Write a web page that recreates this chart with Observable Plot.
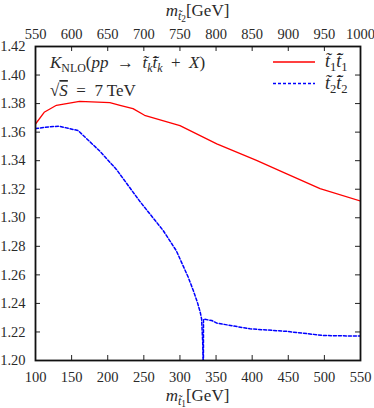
<!DOCTYPE html>
<html>
<head>
<meta charset="utf-8">
<script src="https://cdn.jsdelivr.net/npm/d3@7"></script>
<script src="https://cdn.jsdelivr.net/npm/@observablehq/plot@0.6"></script>
<style>
  html, body { margin: 0; padding: 0; background: #fff; }
  #chart svg { display: block; }
</style>
</head>
<body>
<div id="chart"></div>
<script>
// ---- data ----
const xTicks = [100, 150, 200, 250, 300, 350, 400, 450, 500, 550];
const xTopTickLabels = ["550", "600", "650", "700", "750", "800", "850", "900", "950", "1000"];
const yTicks = [1.20, 1.22, 1.24, 1.26, 1.28, 1.30, 1.32, 1.34, 1.36, 1.38, 1.40, 1.42];
const yTickLabels = ["1.20", "1.22", "1.24", "1.26", "1.28", "1.30", "1.32", "1.34", "1.36", "1.38", "1.40", "1.42"];

// t1 t1bar (red, solid)
const redX = [100, 112, 129, 161, 203, 217, 235, 251, 300, 351, 406, 444, 494, 550];
const redY = [1.3657, 1.3739, 1.3788, 1.3816, 1.3807, 1.3788, 1.3765, 1.3718, 1.3646, 1.3518, 1.3402, 1.3316, 1.3204, 1.3117];

// t2 t2bar (blue, dashed) - branch below threshold
const blueX1 = [100, 120, 133, 159, 189, 212, 244, 277, 295, 311.5, 318.5, 324, 328, 330, 331.5, 332.3];
const blueY1 = [1.3625, 1.3638, 1.3641, 1.3611, 1.3467, 1.3339, 1.3118, 1.2909, 1.2769, 1.2583, 1.2490, 1.2410, 1.2340, 1.2290, 1.2130, 1.1950];
// branch above threshold
const blueX2 = [332.5, 332.6, 344, 351, 397, 448, 499, 550];
const blueY2 = [1.1950, 1.2290, 1.2280, 1.2262, 1.2222, 1.2204, 1.2175, 1.2171];

const red = redX.map((x, i) => ({x, y: redY[i]}));
const blue = [
  ...blueX1.map((x, i) => ({x, y: blueY1[i], b: 1})),
  ...blueX2.map((x, i) => ({x, y: blueY2[i], b: 2}))
];

// ---- layout ----
const W = 374, H = 408;
const mL = 35, mR = 14, mT = 46, mB = 48;
const iW = W - mL - mR, iH = H - mT - mB;
const TK = 5; // inward tick length
const FONT = "'Liberation Serif', 'DejaVu Serif', serif";
const INK = "#2a2a2a";

const chart = Plot.plot({
  width: W, height: H,
  marginLeft: mL, marginRight: mR, marginTop: mT, marginBottom: mB,
  x: {domain: [100, 550]},
  y: {domain: [1.20, 1.42]},
  style: {fontFamily: FONT, fontSize: "14.5px", color: INK, background: "#fff"},
  marks: [
    Plot.axisX(xTicks, {anchor: "bottom", tickSize: 0, tickPadding: 11, label: null, tickFormat: d => String(d)}),
    Plot.axisX(xTicks, {anchor: "top", tickSize: 0, tickPadding: 8, label: null, tickFormat: (d, i) => xTopTickLabels[i]}),
    Plot.axisY(yTicks, {anchor: "left", tickSize: 0, tickPadding: 10, label: null, tickFormat: (d, i) => yTickLabels[i]}),
    Plot.tickX(xTicks, {x: d => d, insetTop: iH - TK, stroke: "#222"}),
    Plot.tickX(xTicks, {x: d => d, insetBottom: iH - TK, stroke: "#222"}),
    Plot.tickY(yTicks, {y: d => d, insetRight: iW - TK, stroke: "#222"}),
    Plot.tickY(yTicks, {y: d => d, insetLeft: iW - TK, stroke: "#222"}),
    Plot.line(red, {x: "x", y: "y", stroke: "#ff0000", strokeWidth: 1.3, clip: true}),
    Plot.line(blue, {x: "x", y: "y", z: "b", stroke: "#0000ff", strokeWidth: 1.5, strokeDasharray: "3,2", clip: true}),
    Plot.frame({stroke: "#111", strokeWidth: 1.8})
  ]
});

document.getElementById("chart").appendChild(chart);

// ---- rich text helper (annotations, legend, axis titles) ----
const svg = d3.select(chart);
function rich(x, y, segs, {size = 14.5, anchor = "start"} = {}) {
  const t = svg.append("text")
    .attr("x", x).attr("y", y)
    .attr("text-anchor", anchor)
    .attr("font-family", FONT)
    .attr("font-size", size)
    .attr("fill", INK);
  let cur = 0;
  for (const s of segs) {
    const level = s.sub || 0;
    const fs = level === 0 ? size : level === 1 ? size * 0.7 : size * 0.55;
    const off = level === 0 ? 0 : level === 1 ? size * 0.22 : size * 0.36;
    const ts = t.append("tspan").text(s.t).attr("font-size", fs);
    if (s.i) ts.attr("font-style", "italic");
    if (s.over) ts.style("text-decoration", "overline");
    const dy = off - cur;
    if (dy !== 0) ts.attr("dy", dy);
    cur = off;
  }
  return t;
}

const SP = "\u2002"; // en space (math spacing around relations/operators)

// annotations
rich(mL + 15, 68, [
  {t: "K", i: 1}, {t: "NLO", sub: 1}, {t: "("}, {t: "pp", i: 1}, {t: SP + "→" + SP},
  {t: "t\u0303", i: 1}, {t: "k", i: 1, sub: 1}, {t: "t\u0303\u0304", i: 1}, {t: "k", i: 1, sub: 1},
  {t: SP + "+" + SP}, {t: "X", i: 1}, {t: ")"}
], {size: 17});
rich(mL + 15, 96, [
  {t: "√"}, {t: "S", i: 1, over: 1}, {t: SP + "=" + SP + "7 TeV"}
], {size: 17});

// legend
const legX1 = 273, legX2 = 315;
svg.append("line").attr("x1", legX1).attr("x2", legX2).attr("y1", 62).attr("y2", 62)
  .attr("stroke", "#ff0000").attr("stroke-width", 1.3);
svg.append("line").attr("x1", legX1).attr("x2", legX2).attr("y1", 83.5).attr("y2", 83.5)
  .attr("stroke", "#0000ff").attr("stroke-width", 1.5).attr("stroke-dasharray", "3,2");
rich(325, 67, [
  {t: "t\u0303", i: 1}, {t: "1", sub: 1}, {t: "t\u0303\u0304", i: 1}, {t: "1", sub: 1}
], {size: 18});
rich(325, 89, [
  {t: "t\u0303", i: 1}, {t: "2", sub: 1}, {t: "t\u0303\u0304", i: 1}, {t: "2", sub: 1}
], {size: 18});

// axis titles
rich(mL + iW / 2, 401, [
  {t: "m", i: 1}, {t: "t\u0303", i: 1, sub: 1}, {t: "1", sub: 2}, {t: "[GeV]"}
], {size: 17, anchor: "middle"});
rich(mL + iW / 2, 16, [
  {t: "m", i: 1}, {t: "t\u0303", i: 1, sub: 1}, {t: "2", sub: 2}, {t: "[GeV]"}
], {size: 17, anchor: "middle"});
</script>
</body>
</html>
